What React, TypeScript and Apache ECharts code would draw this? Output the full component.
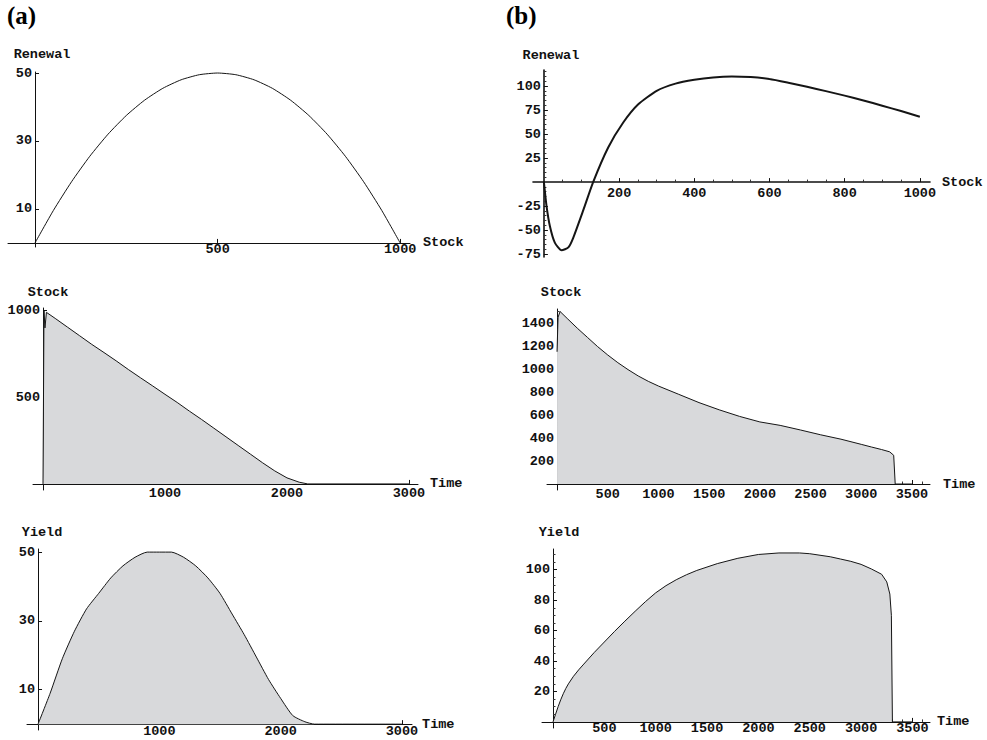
import React, { useEffect, useRef } from 'react';
import * as echarts from 'echarts';

// ---------- Data ----------
// (a) Renewal vs Stock
const renewalA_stock = [0, 50, 100, 150, 200, 250, 300, 350, 400, 450, 500, 550, 600, 650, 700, 750, 800, 850, 900, 950, 1000];
const renewalA_value = [0, 9.5, 18, 25.5, 32, 37.5, 42, 45.5, 48, 49.5, 50, 49.5, 48, 45.5, 42, 37.5, 32, 25.5, 18, 9.5, 0];
// (b) Renewal vs Stock
const renewalB_stock = [0, 7, 16, 29, 47, 65, 78, 105, 131, 171, 211, 251, 300, 350, 400, 450, 500, 550, 600, 650, 700, 750, 800, 850, 900, 950, 1000];
const renewalB_value = [0, -25, -46, -63, -71, -68, -58, -29, 0, 36, 62, 81, 95, 102.5, 106.5, 109, 110, 109.3, 107.3, 103.5, 99.3, 94.7, 90, 85, 79.5, 74, 68];
// (a) Stock vs Time
const stockA_time = [0, 8, 16, 28, 100, 200, 300, 400, 500, 600, 700, 800, 900, 1000, 1100, 1200, 1300, 1400, 1500, 1600, 1700, 1800, 1900, 2000, 2100, 2170, 3000];
const stockA_value = [0, 1000, 900, 990, 955, 905, 855, 805, 758, 710, 660, 612, 565, 517, 470, 420, 372, 322, 272, 222, 172, 122, 75, 35, 10, 0, 0];
// (b) Stock vs Time
const stockB_time = [0, 10, 30, 100, 200, 300, 400, 500, 600, 700, 800, 900, 1000, 1200, 1400, 1600, 1800, 2000, 2200, 2400, 2600, 2800, 3000, 3100, 3200, 3280, 3320, 3335, 3500];
const stockB_value = [1150, 1450, 1500, 1440, 1355, 1275, 1195, 1122, 1055, 995, 940, 893, 852, 780, 708, 645, 588, 540, 510, 470, 428, 390, 345, 322, 300, 280, 250, 0, 0];
// (a) Yield vs Time
const yieldA_time = [0, 100, 200, 300, 400, 500, 600, 700, 800, 900, 1000, 1100, 1200, 1300, 1400, 1500, 1600, 1700, 1800, 1900, 2000, 2100, 2200, 2280, 3000];
const yieldA_value = [0, 9, 19, 27, 33.5, 38, 42.5, 46, 48.5, 50, 50, 50, 48.5, 46, 42.5, 38, 32, 26, 19.5, 13, 7.5, 2.5, 0.7, 0, 0];
// (b) Yield vs Time
const yieldB_time = [0, 25, 50, 75, 100, 125, 150, 200, 250, 300, 400, 500, 600, 700, 800, 900, 1000, 1100, 1200, 1300, 1400, 1600, 1800, 2000, 2200, 2400, 2500, 2600, 2700, 2800, 2900, 3000, 3100, 3200, 3250, 3280, 3295, 3305, 3500];
const yieldB_value = [0, 5, 10, 14.5, 18.5, 22, 25, 30, 34.2, 38, 45.5, 52.5, 59.5, 66.2, 72.7, 79, 84.8, 89.5, 93.4, 96.7, 99.5, 104, 107.5, 110, 111, 111, 110.5, 109.5, 108.5, 107, 105.5, 103.5, 100.5, 97, 92, 84, 70, 0, 0];

// Tick labels
const ticksA_renewalX = [500, 1000];
const ticksA_renewalY = [10, 30, 50];
const ticksB_renewalX = [200, 400, 600, 800, 1000];
const ticksB_renewalY = [-75, -50, -25, 25, 50, 75, 100];
const ticksA_stockX = [1000, 2000, 3000];
const ticksA_stockY = [500, 1000];
const ticksB_stockX = [500, 1000, 1500, 2000, 2500, 3000, 3500];
const ticksB_stockY = [200, 400, 600, 800, 1000, 1200, 1400];
const ticksA_yieldX = [1000, 2000, 3000];
const ticksA_yieldY = [10, 30, 50];
const ticksB_yieldX = [500, 1000, 1500, 2000, 2500, 3000, 3500];
const ticksB_yieldY = [20, 40, 60, 80, 100];

function minorTicks(from: number, to: number, step: number, majors: number[]) {
  const out: number[] = [];
  for (let v = from; v <= to + 1e-9; v += step) {
    const r = Math.round(v * 1000) / 1000;
    if (r !== 0 && majors.indexOf(r) < 0) out.push(r);
  }
  return out;
}

const MONO = "'Liberation Mono', 'DejaVu Sans Mono', monospace";
const LINE = '#151515';
const FILL = '#d8d9db';

type Panel = {
  grid: { left: number; top: number; width: number; height: number };
  xr: [number, number];
  yr: [number, number];
  xs: number[];
  ys: number[];
  vx: number[];
  vy: number[];
  xName: string;
  yName: string;
  area: boolean;
  smooth: number | boolean;
  lw: number;
  aw: number;
  xMargin: number;
  yNameGap: number;
  yNameShift: number;
  xNameGap: number;
  minorX?: number[];
  minorY?: number[];
};

const panels: Panel[] = [
  {
    grid: { left: 8, top: 72, width: 402, height: 175 }, xr: [-74, 1027], yr: [-1.2, 50.3],
    xs: renewalA_stock, ys: renewalA_value, vx: ticksA_renewalX, vy: ticksA_renewalY,
    xName: 'Stock', yName: 'Renewal', area: false, smooth: 0.2, lw: 1, aw: 1, xMargin: 0, yNameGap: 11, yNameShift: 14, xNameGap: 13,
  },
  {
    grid: { left: 533, top: 70, width: 397, height: 187 }, xr: [-29, 1027], yr: [-78, 116.7],
    xs: renewalB_stock, ys: renewalB_value, vx: ticksB_renewalX, vy: ticksB_renewalY,
    xName: 'Stock', yName: 'Renewal', area: false, smooth: 0.2, lw: 2, aw: 1.6, xMargin: 4, yNameGap: 8, yNameShift: 14, xNameGap: 12,
    minorX: minorTicks(50, 1000, 50, ticksB_renewalX), minorY: minorTicks(-75, 115, 5, ticksB_renewalY),
  },
  {
    grid: { left: 33, top: 308, width: 385, height: 182 }, xr: [-82, 3074], yr: [-35, 1015],
    xs: stockA_time, ys: stockA_value, vx: ticksA_stockX, vy: ticksA_stockY,
    xName: 'Time', yName: 'Stock', area: true, smooth: false, lw: 1, aw: 1, xMargin: 3, yNameGap: 9, yNameShift: 10, xNameGap: 12,
  },
  {
    grid: { left: 547, top: 309, width: 383, height: 181 }, xr: [-99, 3678], yr: [-52, 1522],
    xs: stockB_time, ys: stockB_value, vx: ticksB_stockX, vy: ticksB_stockY,
    xName: 'Time', yName: 'Stock', area: true, smooth: false, lw: 1, aw: 1, xMargin: 3, yNameGap: 10, yNameShift: 8, xNameGap: 13,
    minorX: minorTicks(100, 3600, 100, ticksB_stockX), minorY: minorTicks(50, 1500, 50, ticksB_stockY),
  },
  {
    grid: { left: 27, top: 549, width: 385, height: 181 }, xr: [-91, 3083], yr: [-1.7, 50.9],
    xs: yieldA_time, ys: yieldA_value, vx: ticksA_yieldX, vy: ticksA_yieldY,
    xName: 'Time', yName: 'Yield', area: true, smooth: 0.2, lw: 1, aw: 1, xMargin: 0, yNameGap: 10, yNameShift: 8, xNameGap: 4,
  },
  {
    grid: { left: 542, top: 549, width: 388, height: 179 }, xr: [-107, 3671], yr: [-4, 113.6],
    xs: yieldB_time, ys: yieldB_value, vx: ticksB_yieldX, vy: ticksB_yieldY,
    xName: 'Time', yName: 'Yield', area: true, smooth: false, lw: 1, aw: 1, xMargin: 0, yNameGap: 10, yNameShift: 12, xNameGap: 7,
    minorX: minorTicks(100, 3600, 100, ticksB_yieldX), minorY: minorTicks(5, 110, 5, ticksB_yieldY),
  },
];

function buildOption() {
  const grids: any[] = [];
  const xAxes: any[] = [];
  const yAxes: any[] = [];
  const series: any[] = [];
  const labelStyle = { fontFamily: MONO, fontWeight: 'bold', fontSize: 13.5, color: '#111' };
  const fmt = (v: number) => String(v);

  panels.forEach((p, i) => {
    const g = p.grid;
    grids.push({ ...g, containLabel: false, outerBoundsMode: 'none' });
    // pixel position of the zero lines inside the grid (axes cross at the origin)
    const zeroY = g.top + (g.height * p.yr[1]) / (p.yr[1] - p.yr[0]);
    const zeroX = g.left + (g.width * -p.xr[0]) / (p.xr[1] - p.xr[0]);
    const lineStyle = { color: '#111', width: p.aw };
    const xi = xAxes.length;
    const yi = yAxes.length;
    xAxes.push({
      type: 'value', gridIndex: i, min: p.xr[0], max: p.xr[1], position: 'bottom',
      offset: -(g.top + g.height - zeroY),
      axisLine: { show: true, onZero: false, lineStyle },
      axisTick: { show: true, inside: true, length: 4, customValues: p.vx, lineStyle: { color: '#111', width: 1 } },
      axisLabel: { customValues: p.vx, margin: p.xMargin, formatter: fmt, ...labelStyle },
      splitLine: { show: false },
      name: p.xName, nameLocation: 'end', nameGap: p.xNameGap,
      nameTextStyle: { ...labelStyle, align: 'left', verticalAlign: 'middle' },
    });
    yAxes.push({
      type: 'value', gridIndex: i, min: p.yr[0], max: p.yr[1], position: 'left',
      offset: -(zeroX - g.left),
      axisLine: { show: true, onZero: false, lineStyle },
      axisTick: { show: true, inside: true, length: 4, customValues: p.vy, lineStyle: { color: '#111', width: 1 } },
      axisLabel: { customValues: p.vy, margin: 3, formatter: fmt, ...labelStyle },
      splitLine: { show: false },
      name: p.yName, nameLocation: 'end', nameGap: p.yNameGap,
      nameTextStyle: { ...labelStyle, align: 'center', padding: [0, 0, 0, p.yNameShift] },
    });
    if (p.minorX) {
      xAxes.push({
        type: 'value', gridIndex: i, min: p.xr[0], max: p.xr[1], position: 'top',
        offset: -(zeroY - g.top),
        axisLine: { show: false, onZero: false },
        axisTick: { show: true, inside: false, length: 2.5, customValues: p.minorX, lineStyle: { color: '#333', width: 1 } },
        axisLabel: { show: false },
        splitLine: { show: false },
      });
    }
    if (p.minorY) {
      yAxes.push({
        type: 'value', gridIndex: i, min: p.yr[0], max: p.yr[1], position: 'right',
        offset: -(g.left + g.width - zeroX),
        axisLine: { show: false, onZero: false },
        axisTick: { show: true, inside: false, length: 2.5, customValues: p.minorY, lineStyle: { color: '#333', width: 1 } },
        axisLabel: { show: false },
        splitLine: { show: false },
      });
    }
    series.push({
      type: 'line', xAxisIndex: xi, yAxisIndex: yi,
      data: p.xs.map((x, k) => [x, p.ys[k]]),
      showSymbol: false, symbol: 'none', smooth: p.smooth,
      lineStyle: { color: LINE, width: p.lw },
      areaStyle: p.area ? { color: FILL, opacity: 1 } : undefined,
      z: 1,
    });
  });

  return {
    animation: false,
    backgroundColor: '#fff',
    grid: grids,
    xAxis: xAxes,
    yAxis: yAxes,
    series,
    graphic: [
      { type: 'text', left: 7, top: 3, style: { text: '(a)', font: 'bold 25px "Liberation Serif"', fill: '#000' } },
      { type: 'text', left: 506, top: 3, style: { text: '(b)', font: 'bold 25px "Liberation Serif"', fill: '#000' } },
    ],
  };
}

export default function App() {
  const ref = useRef<HTMLDivElement>(null);
  useEffect(() => {
    if (!ref.current) return;
    const chart = echarts.init(ref.current, undefined, { renderer: 'svg' });
    chart.setOption(buildOption() as any);
    return () => chart.dispose();
  }, []);
  return <div ref={ref} style={{ position: 'fixed', left: 0, top: 0, width: 987, height: 740, background: '#fff' }} />;
}
